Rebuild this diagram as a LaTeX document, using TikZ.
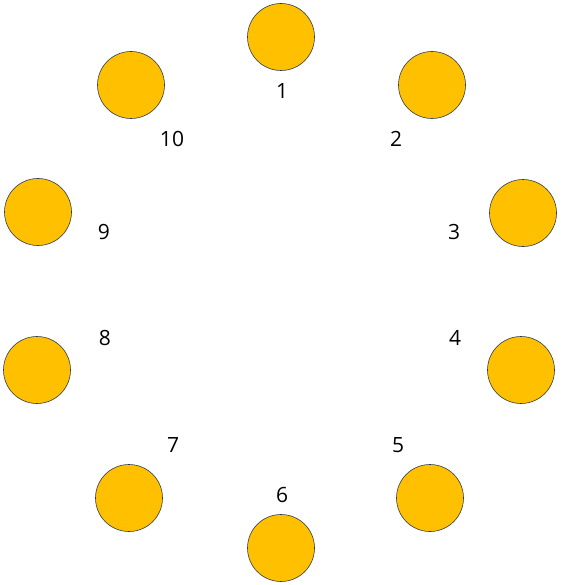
\documentclass[tikz,border=0pt]{standalone}
\usepackage{fontspec}
\setmainfont{Open Sans}
\definecolor{oro}{HTML}{FFC000}
\definecolor{bordo}{HTML}{2F3B4C}
\tikzset{
  pallina/.style={circle, draw=bordo, fill=oro, line width=0.6pt, minimum size=67pt, inner sep=0pt},
  numero/.style={font=\fontsize{21}{24}\selectfont, inner sep=0pt}
}
\begin{document}
\begin{tikzpicture}[x=1pt, y=-1pt]
    % Cornice
    \useasboundingbox (0,0) rectangle (561,585);

    % Palline
    \node[pallina] (c1)  at (281,37)  {};
    \node[pallina] (c2)  at (432,85)  {};
    \node[pallina] (c3)  at (523,213) {};
    \node[pallina] (c4)  at (521,370) {};
    \node[pallina] (c5)  at (430,498) {};
    \node[pallina] (c6)  at (281,548) {};
    \node[pallina] (c7)  at (129,498) {};
    \node[pallina] (c8)  at (37,370)  {};
    \node[pallina] (c9)  at (38,212)  {};
    \node[pallina] (c10) at (131,85)  {};

    % Numeri
    \node[numero] (n1)  at (282,91)  {1};
    \node[numero] (n2)  at (396,139) {2};
    \node[numero] (n3)  at (454,232) {3};
    \node[numero] (n4)  at (455,338) {4};
    \node[numero] (n5)  at (398,445) {5};
    \node[numero] (n6)  at (282,495) {6};
    \node[numero] (n7)  at (173,445) {7};
    \node[numero] (n8)  at (105,338) {8};
    \node[numero] (n9)  at (104,232) {9};
    \node[numero] (n10) at (172,139) {10};
\end{tikzpicture}
\end{document}
